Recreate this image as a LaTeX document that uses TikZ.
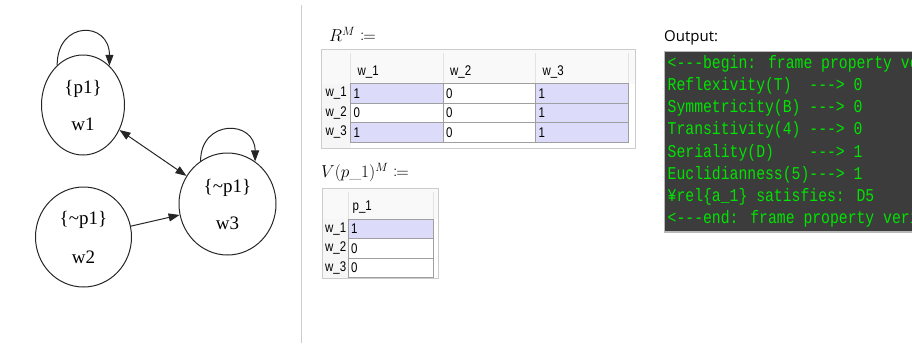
\documentclass[tikz,border=0pt]{standalone}
\usepackage{fontspec}
\usepackage{mathtools}
\usetikzlibrary{shapes.geometric, arrows.meta}
\newfontfamily\graphfont{Liberation Serif}
\newfontfamily\gridfont{Liberation Sans}[FakeStretch=0.82]
\newfontfamily\termfont{Liberation Mono}[FakeStretch=0.82]
\newfontfamily\uifont{Open Sans}
\definecolor{picked}{RGB}{220,220,250}
\definecolor{termbg}{RGB}{60,60,60}
\definecolor{termfg}{RGB}{0,228,0}

\begin{document}
\begin{tikzpicture}[x=1pt, y=-1pt]
        \useasboundingbox (0,0) rectangle (912,343);
        \tikzstyle{world} = [draw=black!85, line width=1pt, ellipse, inner sep=0pt, align=center, font=\graphfont\fontsize{19}{37}\selectfont]
        \tikzstyle{rel} = [-{Triangle[length=11pt, width=8pt]}, line width=1pt, black!85]
        \tikzstyle{both} = [{Triangle[length=11pt, width=8pt]}-{Triangle[length=11pt, width=8pt]}, line width=1pt, black!85]
        \tikzstyle{head} = [anchor=west, inner sep=0pt, font=\gridfont\fontsize{14}{14}\selectfont]
        \tikzstyle{cell} = [draw=gray!75, rectangle, inner xsep=3pt, inner ysep=0pt, align=left, font=\gridfont\fontsize{14}{14}\selectfont]
        \tikzstyle{termline} = [anchor=base west, inner sep=0pt, text=termfg, font=\termfont\fontsize{18}{18}\selectfont]
        % Kripke frame
        \node[world, minimum width=83pt, minimum height=100pt] (w1) at (83,105) {\{p1\}\\w1};
        \node[world, minimum width=96pt, minimum height=100pt] (w2) at (83.5,237) {\{\textasciitilde p1\}\\[2pt]w2};
        \node[world, minimum width=97pt, minimum height=102pt] (w3) at (227.5,204) {\{\textasciitilde p1\}\\w3};
        \draw[rel] (w1.123) .. controls +(0,-45) and +(0,-45) .. (w1.56);
        \draw[rel] (w3.122) .. controls +(0,-42) and +(0,-42) .. (w3.57);
        \draw[both] (w1) -- (w3);
        \draw[rel] (w2) -- (w3);
        % divider
        \draw[gray!40, line width=1pt] (301.5,5) -- (301.5,343);
        % R^M
        \node[anchor=base west, inner sep=0pt, font=\fontsize{17}{17}\selectfont] (rtitle) at (329,41.5) {$R^M \coloneqq$};
        \draw[gray!40, fill=white, line width=1pt] (321,49) rectangle (635.5,148);
        \fill[gray!5] (321.5,49.5) rectangle (635,83.5);
        \fill[gray!7] (321.5,83.5) rectangle (350.5,147.5);
        \draw[gray!22] (350.5,53) -- (350.5,83.5) (443,53) -- (443,83.5) (535.5,53) -- (535.5,83.5) (628,53) -- (628,83.5);
        \node[head] (rc1) at (357.5,72) {w\_1};
        \node[head] (rc2) at (450,72) {w\_2};
        \node[head] (rc3) at (542.5,72) {w\_3};
        \node[head] (rr1) at (325.5,93.25) {w\_1};
        \node[head] (rr2) at (325.5,112.75) {w\_2};
        \node[head] (rr3) at (325.5,132.25) {w\_3};
        \tikzstyle{rcell} = [cell, text width=86.5pt, minimum height=19.5pt]
        \node[rcell, fill=picked] (r11) at (396.75,93.25) {1};
        \node[rcell, fill=white] (r12) at (489.25,93.25) {0};
        \node[rcell, fill=picked] (r13) at (581.75,93.25) {1};
        \node[rcell, fill=white] (r21) at (396.75,112.75) {0};
        \node[rcell, fill=white] (r22) at (489.25,112.75) {0};
        \node[rcell, fill=picked] (r23) at (581.75,112.75) {1};
        \node[rcell, fill=picked] (r31) at (396.75,132.25) {1};
        \node[rcell, fill=white] (r32) at (489.25,132.25) {0};
        \node[rcell, fill=picked] (r33) at (581.75,132.25) {1};
        % V(p_1)^M
        \node[anchor=base west, inner sep=0pt, font=\fontsize{17}{17}\selectfont] (vtitle) at (321,177.5) {$V(p\_1)^M \coloneqq$};
        \draw[gray!40, fill=white, line width=1pt] (322,188) rectangle (438,278);
        \fill[gray!5] (322.5,188.5) rectangle (437.5,219);
        \fill[gray!7] (322.5,219) rectangle (348,277.5);
        \draw[gray!22] (348,192) -- (348,219) (433,192) -- (433,219);
        \node[head] (vc1) at (352.5,207.5) {p\_1};
        \node[head] (vr1) at (325,228.75) {w\_1};
        \node[head] (vr2) at (325,248.25) {w\_2};
        \node[head] (vr3) at (325,267.75) {w\_3};
        \tikzstyle{vcell} = [cell, text width=79pt, minimum height=19.5pt]
        \node[vcell, fill=picked] (v1) at (390.5,228.75) {1};
        \node[vcell, fill=white] (v2) at (390.5,248.25) {0};
        \node[vcell, fill=white] (v3) at (390.5,267.75) {0};
        % output
        \node[anchor=base west, inner sep=0pt, font=\uifont\fontsize{15}{15}\selectfont] (outtitle) at (664,41.7) {Output:};
        \draw[gray!55, fill=termbg, line width=1.2pt] (664.5,51.5) rectangle (916,232);
        \begin{scope}
          \clip (664,50) rectangle (912,234);
          \node[termline] (t1) at (667.5,68.3) {<---begin: frame property verification};
          \node[termline] (t2) at (667.5,90.5) {Reflexivity(T)~~---> 0};
          \node[termline] (t3) at (667.5,112.7) {Symmetricity(B) ---> 0};
          \node[termline] (t4) at (667.5,134.9) {Transitivity(4) ---> 0};
          \node[termline] (t5) at (667.5,157.1) {Seriality(D)~~~~---> 1};
          \node[termline] (t6) at (667.5,179.3) {Euclidianness(5)---> 1};
          \node[termline] (t7) at (667.5,201.5) {¥rel\{a\_1\} satisfies: D5};
          \node[termline] (t8) at (667.5,223.7) {<---end: frame property verification};
        \end{scope}
      \end{tikzpicture}
\end{document}
